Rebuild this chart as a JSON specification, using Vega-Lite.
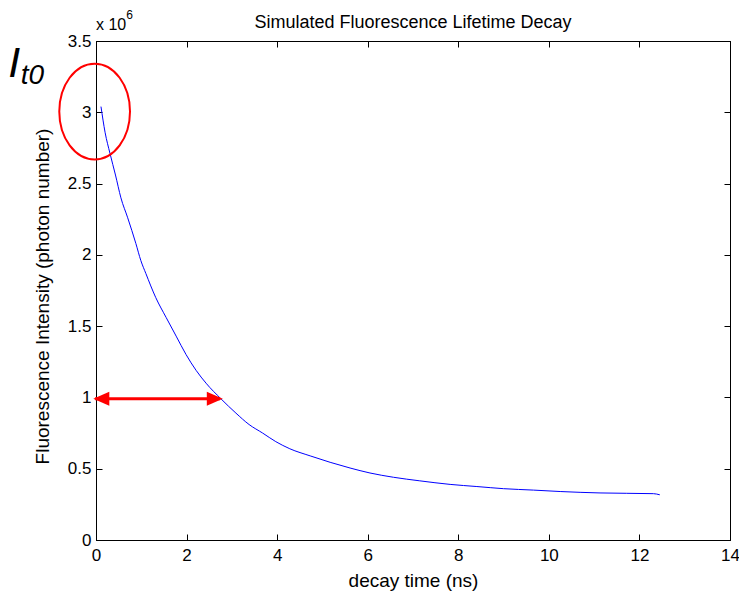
{
  "$schema": "https://vega.github.io/schema/vega-lite/v6.json",
  "width": 634,
  "height": 499,
  "autosize": {"type": "none"},
  "padding": {"left": 96, "top": 41, "right": 9, "bottom": 55},
  "background": "white",
  "config": {
    "font": "Liberation Sans",
    "view": {"stroke": "black", "strokeWidth": 1},
    "axis": {
      "grid": false,
      "domainColor": "black",
      "domainWidth": 1,
      "tickColor": "black",
      "tickWidth": 1,
      "tickSize": -6,
      "labelColor": "black",
      "labelFont": "Liberation Sans",
      "labelFontSize": 17,
      "labelFlush": false,
      "labelOverlap": false,
      "titleColor": "black",
      "titleFont": "Liberation Sans",
      "titleFontSize": 19,
      "titleFontWeight": "normal"
    }
  },
  "datasets": {
    "decay": [
      {"t": 0.11, "photons": 3040000},
      {"t": 0.20, "photons": 2860000},
      {"t": 0.31, "photons": 2710000},
      {"t": 0.43, "photons": 2560000},
      {"t": 0.55, "photons": 2400000},
      {"t": 0.70, "photons": 2260000},
      {"t": 0.88, "photons": 2080000},
      {"t": 0.99, "photons": 1960000},
      {"t": 1.10, "photons": 1870000},
      {"t": 1.32, "photons": 1700000},
      {"t": 1.55, "photons": 1560000},
      {"t": 1.77, "photons": 1430000},
      {"t": 1.99, "photons": 1300000},
      {"t": 2.21, "photons": 1190000},
      {"t": 2.43, "photons": 1100000},
      {"t": 2.76, "photons": 990000},
      {"t": 3.09, "photons": 890000},
      {"t": 3.38, "photons": 810000},
      {"t": 3.68, "photons": 750000},
      {"t": 3.97, "photons": 690000},
      {"t": 4.28, "photons": 640000},
      {"t": 4.73, "photons": 590000},
      {"t": 5.17, "photons": 545000},
      {"t": 5.61, "photons": 505000},
      {"t": 6.05, "photons": 470000},
      {"t": 6.57, "photons": 440000},
      {"t": 7.15, "photons": 415000},
      {"t": 7.82, "photons": 390000},
      {"t": 8.41, "photons": 375000},
      {"t": 9.00, "photons": 360000},
      {"t": 9.66, "photons": 350000},
      {"t": 10.25, "photons": 340000},
      {"t": 11.13, "photons": 330000},
      {"t": 12.31, "photons": 325000},
      {"t": 12.45, "photons": 317000}
    ],
    "ellipse": [{"t": -0.03, "photons": 3005000}],
    "arrow": [{"t0": -0.02, "t1": 2.74, "photons": 990000}],
    "heads": [
      {"t": -0.06, "photons": 990000, "dir": "left"},
      {"t": 2.80, "photons": 990000, "dir": "right"}
    ],
    "bigI": [{"t": -1.94, "photons": 3244000, "label": "I"}],
    "sub": [{"t": -1.66, "photons": 3195000, "label": "t0"}],
    "exp": [{"t": 0.0, "photons": 3576000, "label": "x 10"}],
    "expsup": [{"t": 0.67, "photons": 3655000, "label": "6"}],
    "heading": [{"t": 7.0, "photons": 3591000, "label": "Simulated Fluorescence Lifetime Decay"}]
  },
  "layer": [
    {
      "data": {"name": "decay"},
      "mark": {"type": "line", "color": "#0000FF", "strokeWidth": 1, "clip": false, "interpolate": "monotone"},
      "encoding": {
        "x": {
          "field": "t", "type": "quantitative",
          "scale": {"domain": [0, 14], "nice": false, "zero": false},
          "axis": {
            "orient": "bottom",
            "values": [0, 2, 4, 6, 8, 10, 12, 14],
            "labelPadding": 13,
            "title": "decay time (ns)",
            "titleX": 317,
            "titleY": 46,
            "titleBaseline": "alphabetic",
            "titleAlign": "center"
          }
        },
        "y": {
          "field": "photons", "type": "quantitative",
          "scale": {"domain": [0, 3500000], "nice": false, "zero": false},
          "axis": {
            "orient": "left",
            "values": [0, 500000, 1000000, 1500000, 2000000, 2500000, 3000000, 3500000],
            "labelExpr": "datum.value / 1000000",
            "labelPadding": 11,
            "title": "Fluorescence Intensity (photon number)",
            "titleX": -44,
            "titleY": 255,
            "titleAngle": -90,
            "titleBaseline": "bottom",
            "titleAlign": "center"
          }
        }
      }
    },
    {
      "data": {"name": "ellipse"},
      "mark": {
        "type": "point",
        "shape": "M-0.739,0A0.739,1,0,1,0,0.739,0A0.739,1,0,1,0,-0.739,0Z",
        "size": 9158,
        "filled": false,
        "stroke": "#FF0000",
        "strokeWidth": 2,
        "opacity": 1
      },
      "encoding": {
        "x": {
          "field": "t", "type": "quantitative",
          "axis": {"orient": "top", "values": [0, 2, 4, 6, 8, 10, 12, 14], "labels": false, "title": null}
        },
        "y": {
          "field": "photons", "type": "quantitative",
          "axis": {"orient": "right", "values": [0, 500000, 1000000, 1500000, 2000000, 2500000, 3000000, 3500000], "labels": false, "title": null}
        }
      }
    },
    {
      "data": {"name": "arrow"},
      "mark": {"type": "rule", "color": "#FF0000", "strokeWidth": 3},
      "encoding": {
        "x": {"field": "t0", "type": "quantitative", "axis": null},
        "x2": {"field": "t1"},
        "y": {"field": "photons", "type": "quantitative", "axis": null}
      }
    },
    {
      "data": {"name": "heads"},
      "mark": {"type": "point", "filled": true, "color": "#FF0000", "size": 256, "opacity": 1},
      "encoding": {
        "x": {"field": "t", "type": "quantitative", "axis": null},
        "y": {"field": "photons", "type": "quantitative", "axis": null},
        "shape": {
          "field": "dir", "type": "nominal", "legend": null,
          "scale": {"domain": ["left", "right"], "range": ["M0,0L2,-0.875L2,0.875Z", "M0,0L-2,-0.875L-2,0.875Z"]}
        }
      }
    },
    {
      "data": {"name": "bigI"},
      "mark": {"type": "text", "fontSize": 43, "fontStyle": "italic", "font": "Liberation Sans", "align": "left", "baseline": "alphabetic", "color": "black"},
      "encoding": {
        "x": {"field": "t", "type": "quantitative", "axis": null},
        "y": {"field": "photons", "type": "quantitative", "axis": null},
        "text": {"field": "label"}
      }
    },
    {
      "data": {"name": "sub"},
      "mark": {"type": "text", "fontSize": 28, "fontStyle": "italic", "font": "Liberation Sans", "align": "left", "baseline": "alphabetic", "color": "black"},
      "encoding": {
        "x": {"field": "t", "type": "quantitative", "axis": null},
        "y": {"field": "photons", "type": "quantitative", "axis": null},
        "text": {"field": "label"}
      }
    },
    {
      "data": {"name": "exp"},
      "mark": {"type": "text", "fontSize": 16, "font": "Liberation Sans", "align": "left", "baseline": "alphabetic", "color": "black"},
      "encoding": {
        "x": {"field": "t", "type": "quantitative", "axis": null},
        "y": {"field": "photons", "type": "quantitative", "axis": null},
        "text": {"field": "label"}
      }
    },
    {
      "data": {"name": "expsup"},
      "mark": {"type": "text", "fontSize": 12, "font": "Liberation Sans", "align": "left", "baseline": "alphabetic", "color": "black"},
      "encoding": {
        "x": {"field": "t", "type": "quantitative", "axis": null},
        "y": {"field": "photons", "type": "quantitative", "axis": null},
        "text": {"field": "label"}
      }
    },
    {
      "data": {"name": "heading"},
      "mark": {"type": "text", "fontSize": 18, "font": "Liberation Sans", "align": "center", "baseline": "alphabetic", "color": "black"},
      "encoding": {
        "x": {"field": "t", "type": "quantitative", "axis": null},
        "y": {"field": "photons", "type": "quantitative", "axis": null},
        "text": {"field": "label"}
      }
    }
  ],
  "resolve": {"axis": {"x": "independent", "y": "independent"}}
}
